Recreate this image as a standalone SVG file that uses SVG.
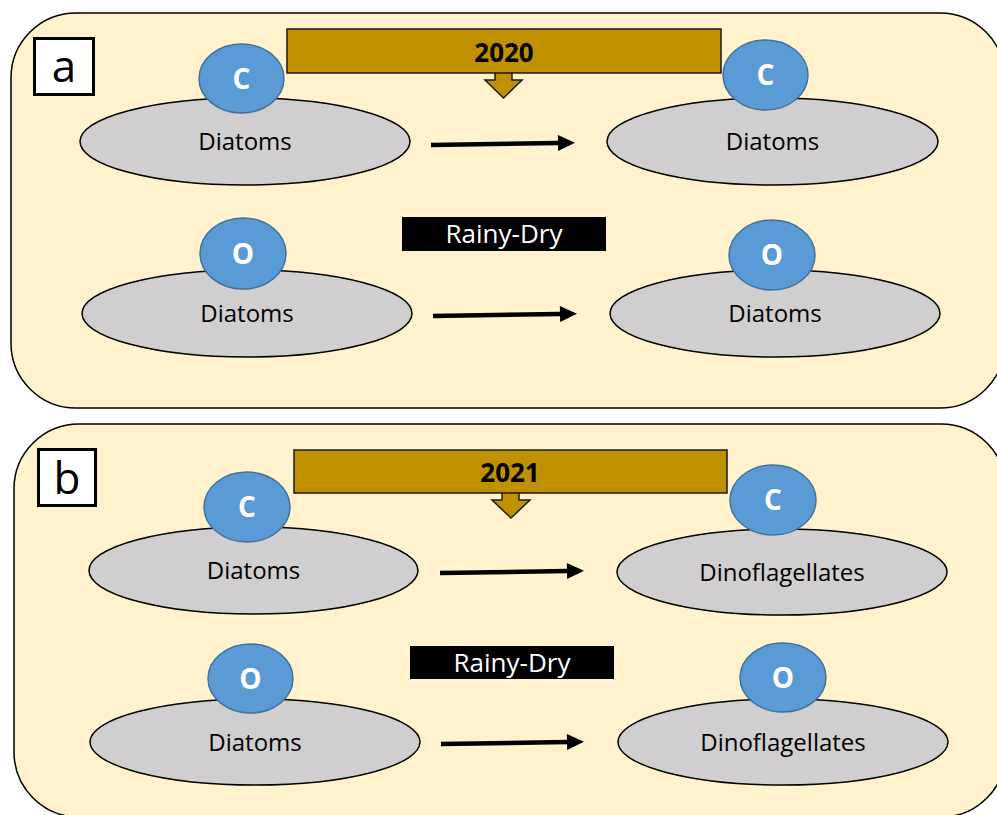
<svg xmlns="http://www.w3.org/2000/svg" width="997" height="815" viewBox="0 0 997 815">
  <style>
    .panel { fill: #FFF2CC; stroke: #000; stroke-width: 1.5; }
    .tag { fill: #fff; stroke: #000; stroke-width: 3; }
    .tagtxt { font-family: "Open Sans", "Liberation Sans", sans-serif; font-size: 44px; fill: #000; text-anchor: middle; }
    .banner { fill: #BF9000; stroke: #1a1a1a; stroke-width: 1.5; }
    .year { font-family: "Open Sans", "Liberation Sans", sans-serif; font-weight: bold; font-size: 26px; fill: #000; text-anchor: middle; }
    .season { fill: #000; }
    .seasontxt { font-family: "Open Sans", "Liberation Sans", sans-serif; font-size: 26px; fill: #fff; text-anchor: middle; }
    .body { fill: #D0CECE; stroke: #000; stroke-width: 1.5; }
    .bodytxt { font-family: "Open Sans", "Liberation Sans", sans-serif; font-size: 24px; fill: #000; text-anchor: middle; }
    .site { fill: #5B9BD5; stroke: #41719C; stroke-width: 1.5; }
    .sitetxt { font-family: "Open Sans", "Liberation Sans", sans-serif; font-weight: bold; font-size: 28px; fill: #fff; text-anchor: middle; }
    .link { fill: none; stroke: #000; stroke-width: 4.5; marker-end: url(#head); }
  </style>
  <defs>
    <marker id="head" markerUnits="userSpaceOnUse" markerWidth="18" markerHeight="18" viewBox="0 -9 18 18" refX="0" refY="0" orient="auto" overflow="visible">
      <path d="M0,-8 L17,0 L0,8 Z" fill="#000"/>
    </marker>
  </defs>

  <!-- panel a: 2020 -->
  <g id="panel-a">
    <rect class="panel" x="11" y="13" width="994" height="395" rx="65" ry="65"/>
    <rect class="tag" x="34.5" y="38.5" width="59" height="56"/>
    <text class="tagtxt" x="64" y="82">a</text>
  </g>
  <g id="year-2020">
    <path class="banner" d="M495,72 L495,80 L485,80 L503.5,98 L522,80 L512,80 L512,72 Z"/>
    <rect class="banner" x="287" y="29" width="434" height="44"/>
    <text class="year" x="504" y="62">2020</text>
  </g>
  <g id="season-a">
    <rect class="season" x="402" y="217" width="204" height="34"/>
    <text class="seasontxt" x="504" y="243">Rainy-Dry</text>
  </g>
  <g id="a-c-before">
    <ellipse class="body" cx="245" cy="141.5" rx="165" ry="43.5"/>
    <text class="bodytxt" x="245" y="150">Diatoms</text>
    <ellipse class="site" cx="241.5" cy="78.5" rx="42.5" ry="34.5"/>
    <text class="sitetxt" x="241.5" y="88.5">C</text>
  </g>
  <g id="a-c-after">
    <ellipse class="body" cx="772.5" cy="141.5" rx="165.5" ry="43.5"/>
    <text class="bodytxt" x="772.5" y="150">Diatoms</text>
    <ellipse class="site" cx="765.5" cy="75" rx="42.5" ry="35"/>
    <text class="sitetxt" x="765.5" y="85">C</text>
  </g>
  <g id="a-o-before">
    <ellipse class="body" cx="247" cy="313.5" rx="165" ry="43.5"/>
    <text class="bodytxt" x="247" y="322">Diatoms</text>
    <ellipse class="site" cx="243" cy="253.5" rx="43" ry="35.5"/>
    <text class="sitetxt" x="243" y="263.5">O</text>
  </g>
  <g id="a-o-after">
    <ellipse class="body" cx="775" cy="313.5" rx="165" ry="43.5"/>
    <text class="bodytxt" x="775" y="322">Diatoms</text>
    <ellipse class="site" cx="772" cy="255" rx="43" ry="35"/>
    <text class="sitetxt" x="772" y="265">O</text>
  </g>

  <!-- panel b: 2021 -->
  <g id="panel-b">
    <rect class="panel" x="14" y="424" width="992" height="393" rx="65" ry="65"/>
    <rect class="tag" x="38.5" y="449.5" width="57" height="56"/>
    <text class="tagtxt" x="67" y="494">b</text>
  </g>
  <g id="year-2021">
    <path class="banner" d="M502,492 L502,500 L492,500 L511,518 L530,500 L519,500 L519,492 Z"/>
    <rect class="banner" x="294" y="450" width="433" height="43"/>
    <text class="year" x="510" y="482">2021</text>
  </g>
  <g id="season-b">
    <rect class="season" x="410" y="646" width="204" height="33"/>
    <text class="seasontxt" x="512" y="672">Rainy-Dry</text>
  </g>
  <g id="b-c-before">
    <ellipse class="body" cx="253.5" cy="570.5" rx="164.5" ry="43.5"/>
    <text class="bodytxt" x="253.5" y="579">Diatoms</text>
    <ellipse class="site" cx="247" cy="507" rx="43" ry="35"/>
    <text class="sitetxt" x="247" y="517">C</text>
  </g>
  <g id="b-c-after">
    <ellipse class="body" cx="782" cy="572" rx="165" ry="43"/>
    <text class="bodytxt" x="782" y="580.5">Dinoflagellates</text>
    <ellipse class="site" cx="773" cy="500" rx="43" ry="35"/>
    <text class="sitetxt" x="773" y="510">C</text>
  </g>
  <g id="b-o-before">
    <ellipse class="body" cx="255" cy="742" rx="165" ry="43"/>
    <text class="bodytxt" x="255" y="750.5">Diatoms</text>
    <ellipse class="site" cx="250.5" cy="678.5" rx="42.5" ry="34.5"/>
    <text class="sitetxt" x="250.5" y="688.5">O</text>
  </g>
  <g id="b-o-after">
    <ellipse class="body" cx="783" cy="742" rx="165" ry="43"/>
    <text class="bodytxt" x="783" y="750.5">Dinoflagellates</text>
    <ellipse class="site" cx="783" cy="677.5" rx="43" ry="34.5"/>
    <text class="sitetxt" x="783" y="687.5">O</text>
  </g>

  <!-- transitions -->
  <g id="connectors">
    <path class="link" d="M431,145 L558,143"/>
    <path class="link" d="M433,316 L560,314"/>
    <path class="link" d="M440,573 L567,571"/>
    <path class="link" d="M441,744 L567,742"/>
  </g>
</svg>
